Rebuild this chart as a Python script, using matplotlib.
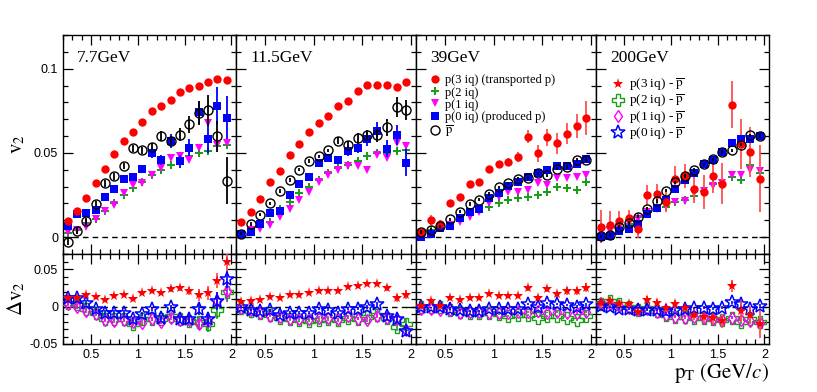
import numpy as np
import matplotlib
matplotlib.use("Agg")
import matplotlib.pyplot as plt
from matplotlib.ticker import MultipleLocator, FixedLocator
from matplotlib.lines import Line2D

plt.rcParams['font.family'] = ['Liberation Sans', 'DejaVu Sans']
plt.rcParams['mathtext.fontset'] = 'stix'

pt = [0.25, 0.35, 0.45, 0.55, 0.65, 0.75, 0.85, 0.95, 1.05, 1.15,
      1.25, 1.35, 1.45, 1.55, 1.65, 1.75, 1.85, 1.95]
energies = ["7.7GeV", "11.5GeV", "39GeV", "200GeV"]

# ---------- v2 (top row) ----------
v2_3iq = [
    [0.0097, 0.0154, 0.0231, 0.0321, 0.0402, 0.0493, 0.0568, 0.0623, 0.0686, 0.0746, 0.0779, 0.0813, 0.0862, 0.0884, 0.0899, 0.0923, 0.0937, 0.0931],
    [0.0091, 0.0148, 0.0225, 0.0329, 0.0394, 0.0487, 0.0552, 0.0627, 0.0675, 0.0722, 0.0777, 0.0807, 0.0868, 0.0901, 0.0903, 0.0903, 0.0892, 0.0921],
    [0.0028, 0.0103, 0.0081, 0.0201, 0.0237, 0.0316, 0.0327, 0.0404, 0.0432, 0.0448, 0.0475, 0.0596, 0.0499, 0.0594, 0.0556, 0.0615, 0.0661, 0.0708],
    [0.0063, 0.0075, 0.0097, 0.0114, 0.0047, 0.0252, 0.0256, 0.0210, 0.0343, 0.0363, 0.0284, 0.0270, 0.0363, 0.0318, 0.0787, 0.0552, 0.0505, 0.0347],
]
v2_3iq_err = [
    [0.001, 0.001, 0.001, 0.001, 0.001, 0.001, 0.001, 0.001, 0.001, 0.001, 0.001, 0.001, 0.001, 0.001, 0.001, 0.001, 0.001, 0.0015],
    [0.001, 0.001, 0.001, 0.001, 0.001, 0.001, 0.001, 0.001, 0.001, 0.001, 0.001, 0.001, 0.001, 0.001, 0.001, 0.001, 0.0015, 0.002],
    [0.002, 0.003, 0.002, 0.002, 0.002, 0.002, 0.002, 0.002, 0.002, 0.002, 0.003, 0.004, 0.005, 0.005, 0.006, 0.006, 0.007, 0.010],
    [0.010, 0.008, 0.006, 0.005, 0.005, 0.006, 0.006, 0.006, 0.008, 0.007, 0.008, 0.010, 0.010, 0.012, 0.014, 0.015, 0.015, 0.020],
]
v2_2iq = [
    [0.0024, 0.0045, 0.0085, 0.0110, 0.0155, 0.0200, 0.0250, 0.0290, 0.0330, 0.0370, 0.0400, 0.0430, 0.0450, 0.0480, 0.0500, 0.0510, 0.0540, 0.0550],
    [0.0010, 0.0050, 0.0060, 0.0090, 0.0170, 0.0210, 0.0260, 0.0300, 0.0340, 0.0380, 0.0410, 0.0430, 0.0450, 0.0480, 0.0500, 0.0500, 0.0510, 0.0520],
    [0.0015, 0.0040, 0.0070, 0.0075, 0.0110, 0.0130, 0.0170, 0.0180, 0.0200, 0.0220, 0.0230, 0.0240, 0.0250, 0.0270, 0.0300, 0.0290, 0.0280, 0.0330],
    [0.0018, 0.0060, 0.0063, 0.0081, 0.0122, 0.0156, 0.0185, 0.0180, 0.0210, 0.0220, 0.0245, 0.0274, 0.0314, 0.0320, 0.0357, 0.0337, 0.0426, 0.0379],
]
v2_1iq = [
    [0.0030, 0.0040, 0.0060, 0.0105, 0.0155, 0.0190, 0.0260, 0.0310, 0.0320, 0.0370, 0.0410, 0.0470, 0.0480, 0.0460, 0.0530, 0.0680, 0.0550, 0.0560],
    [0.0010, 0.0040, 0.0050, 0.0070, 0.0120, 0.0170, 0.0220, 0.0270, 0.0330, 0.0370, 0.0400, 0.0420, 0.0420, 0.0400, 0.0485, 0.0470, 0.0560, 0.0540],
    [0.0020, 0.0020, 0.0060, 0.0075, 0.0090, 0.0120, 0.0150, 0.0200, 0.0240, 0.0270, 0.0270, 0.0280, 0.0320, 0.0310, 0.0350, 0.0350, 0.0360, 0.0370],
    [0.0028, 0.0037, 0.0063, 0.0083, 0.0110, 0.0150, 0.0170, 0.0185, 0.0210, 0.0215, 0.0260, 0.0274, 0.0304, 0.0320, 0.0370, 0.0370, 0.0400, 0.0390],
]
v2_0iq = [
    [0.0067, 0.0140, 0.0142, 0.0162, 0.0239, 0.0288, 0.0345, 0.0360, 0.0404, 0.0500, 0.0458, 0.0570, 0.0450, 0.0530, 0.0740, 0.0580, 0.0780, 0.0710],
    [0.0018, 0.0032, 0.0079, 0.0146, 0.0158, 0.0252, 0.0318, 0.0357, 0.0442, 0.0467, 0.0460, 0.0511, 0.0527, 0.0584, 0.0633, 0.0525, 0.0607, 0.0442],
    [0.0000, 0.0020, 0.0055, 0.0065, 0.0112, 0.0150, 0.0167, 0.0233, 0.0260, 0.0305, 0.0325, 0.0355, 0.0383, 0.0400, 0.0425, 0.0422, 0.0437, 0.0464],
    [0.0000, 0.0004, 0.0037, 0.0047, 0.0077, 0.0136, 0.0172, 0.0221, 0.0284, 0.0340, 0.0383, 0.0432, 0.0456, 0.0505, 0.0560, 0.0580, 0.0584, 0.0600],
]
v2_0iq_err = [
    [0.002, 0.002, 0.002, 0.002, 0.002, 0.002, 0.002, 0.002, 0.002, 0.003, 0.003, 0.004, 0.004, 0.005, 0.007, 0.008, 0.011, 0.013],
    [0.001, 0.001, 0.001, 0.001, 0.001, 0.002, 0.002, 0.002, 0.002, 0.002, 0.002, 0.003, 0.003, 0.004, 0.005, 0.005, 0.006, 0.008],
    [0.001, 0.001, 0.001, 0.001, 0.001, 0.001, 0.001, 0.001, 0.001, 0.001, 0.001, 0.001, 0.001, 0.001, 0.001, 0.001, 0.002, 0.002],
    [0.001, 0.001, 0.001, 0.001, 0.001, 0.001, 0.001, 0.001, 0.001, 0.001, 0.001, 0.001, 0.001, 0.001, 0.002, 0.002, 0.002, 0.002],
]
v2_pbar = [
    [-0.0026, 0.0038, 0.0095, 0.0197, 0.0320, 0.0361, 0.0422, 0.0527, 0.0515, 0.0537, 0.0602, 0.0572, 0.0608, 0.0671, 0.0738, 0.0752, 0.0598, 0.0335],
    [0.0020, 0.0079, 0.0134, 0.0201, 0.0274, 0.0339, 0.0400, 0.0452, 0.0479, 0.0515, 0.0572, 0.0550, 0.0588, 0.0607, 0.0604, 0.0653, 0.0771, 0.0757],
    [0.0030, 0.0045, 0.0065, 0.0105, 0.0152, 0.0197, 0.0223, 0.0256, 0.0296, 0.0320, 0.0345, 0.0349, 0.0379, 0.0367, 0.0406, 0.0416, 0.0460, 0.0458],
    [0.0004, 0.0012, 0.0060, 0.0083, 0.0122, 0.0170, 0.0215, 0.0276, 0.0325, 0.0363, 0.0398, 0.0432, 0.0462, 0.0505, 0.0515, 0.0550, 0.0604, 0.0600],
]
v2_pbar_err = [
    [0.002, 0.002, 0.002, 0.002, 0.002, 0.002, 0.002, 0.002, 0.002, 0.002, 0.003, 0.003, 0.004, 0.005, 0.007, 0.009, 0.009, 0.014],
    [0.001, 0.001, 0.001, 0.001, 0.001, 0.001, 0.001, 0.001, 0.001, 0.001, 0.002, 0.002, 0.003, 0.003, 0.004, 0.005, 0.006, 0.006],
    [0.001, 0.001, 0.001, 0.001, 0.001, 0.001, 0.001, 0.001, 0.001, 0.001, 0.001, 0.001, 0.001, 0.001, 0.001, 0.001, 0.001, 0.001],
    [0.001, 0.001, 0.001, 0.001, 0.001, 0.001, 0.001, 0.001, 0.001, 0.001, 0.001, 0.001, 0.001, 0.001, 0.001, 0.001, 0.001, 0.001],
]

# ---------- delta v2 (bottom row) ----------
dv2_3iq = [
    [0.0120, 0.0107, 0.0151, 0.0133, 0.0089, 0.0138, 0.0156, 0.0102, 0.0178, 0.0213, 0.0182, 0.0240, 0.0253, 0.0209, 0.0156, 0.0178, 0.0342, 0.0596],
    [0.0062, 0.0071, 0.0093, 0.0129, 0.0116, 0.0147, 0.0147, 0.0182, 0.0204, 0.0204, 0.0204, 0.0258, 0.0280, 0.0302, 0.0302, 0.0249, 0.0116, 0.0160],
    [0.0010, 0.0076, 0.0009, 0.0107, 0.0089, 0.0120, 0.0107, 0.0164, 0.0142, 0.0142, 0.0142, 0.0253, 0.0120, 0.0231, 0.0164, 0.0209, 0.0209, 0.0253],
    [0.0049, 0.0071, 0.0040, 0.0027, -0.0076, 0.0084, 0.0049, -0.0018, 0.0027, -0.0018, -0.0107, -0.0138, -0.0151, -0.0196, 0.0271, -0.0062, -0.0107, -0.0227],
]
dv2_3iq_err = [
    [0.003, 0.003, 0.003, 0.003, 0.003, 0.003, 0.003, 0.003, 0.003, 0.003, 0.003, 0.004, 0.004, 0.005, 0.008, 0.009, 0.010, 0.012],
    [0.002, 0.002, 0.002, 0.002, 0.002, 0.002, 0.002, 0.002, 0.002, 0.002, 0.002, 0.002, 0.002, 0.003, 0.003, 0.004, 0.005, 0.006],
    [0.002, 0.003, 0.002, 0.002, 0.002, 0.002, 0.002, 0.002, 0.002, 0.002, 0.002, 0.004, 0.004, 0.004, 0.004, 0.005, 0.005, 0.006],
    [0.008, 0.006, 0.005, 0.004, 0.004, 0.005, 0.005, 0.005, 0.006, 0.006, 0.007, 0.008, 0.008, 0.009, 0.008, 0.015, 0.012, 0.019],
]
dv2_2iq = [
    [0.0053, 0.0031, -0.0036, -0.0089, -0.0169, -0.0169, -0.0169, -0.0236, -0.0169, -0.0169, -0.0169, -0.0124, -0.0169, -0.0191, -0.0213, -0.0236, -0.0049, 0.0187],
    [-0.0018, -0.0062, -0.0084, -0.0107, -0.0151, -0.0173, -0.0182, -0.0187, -0.0182, -0.0173, -0.0182, -0.0151, -0.0164, -0.0138, -0.0107, -0.0151, -0.0271, -0.0227],
    [0.0000, -0.0013, 0.0000, -0.0044, -0.0071, -0.0089, -0.0089, -0.0080, -0.0102, -0.0124, -0.0116, -0.0116, -0.0147, -0.0124, -0.0124, -0.0147, -0.0178, -0.0124],
    [0.0040, 0.0071, 0.0040, -0.0004, -0.0040, -0.0018, -0.0062, -0.0107, -0.0138, -0.0138, -0.0151, -0.0151, -0.0164, -0.0182, -0.0151, -0.0209, -0.0173, -0.0209],
]
dv2_1iq = [
    [0.0031, 0.0000, -0.0058, -0.0102, -0.0178, -0.0191, -0.0178, -0.0213, -0.0222, -0.0169, -0.0204, -0.0147, -0.0178, -0.0178, -0.0236, -0.0191, 0.0076, 0.0209],
    [-0.0018, -0.0053, -0.0084, -0.0120, -0.0138, -0.0164, -0.0164, -0.0164, -0.0151, -0.0151, -0.0173, -0.0129, -0.0164, -0.0182, -0.0120, -0.0151, -0.0173, -0.0307],
    [-0.0027, -0.0027, -0.0044, -0.0044, -0.0080, -0.0071, -0.0071, -0.0080, -0.0080, -0.0080, -0.0071, -0.0071, -0.0058, -0.0080, -0.0071, -0.0080, -0.0080, -0.0071],
    [0.0027, 0.0027, 0.0013, -0.0018, -0.0040, -0.0031, -0.0076, -0.0107, -0.0138, -0.0151, -0.0138, -0.0151, -0.0164, -0.0182, -0.0151, -0.0182, -0.0196, -0.0218],
]
dv2_0iq = [
    [0.0110, 0.0110, 0.0053, -0.0036, -0.0080, -0.0080, -0.0080, -0.0169, -0.0100, -0.0036, -0.0147, -0.0013, -0.0169, -0.0160, -0.0027, -0.0169, 0.0080, 0.0373],
    [-0.0004, -0.0040, -0.0062, -0.0053, -0.0107, -0.0084, -0.0084, -0.0084, -0.0027, -0.0040, -0.0084, -0.0031, -0.0031, -0.0004, 0.0027, -0.0120, -0.0164, -0.0329],
    [-0.0013, -0.0013, -0.0013, -0.0036, -0.0044, -0.0058, -0.0058, -0.0027, -0.0027, -0.0027, -0.0027, 0.0031, 0.0000, 0.0044, 0.0031, 0.0018, 0.0000, 0.0031],
    [0.0013, -0.0004, -0.0031, -0.0031, -0.0040, -0.0040, -0.0040, -0.0062, -0.0040, -0.0031, -0.0022, -0.0018, -0.0027, -0.0018, 0.0058, 0.0040, -0.0031, 0.0004],
]
dv2_lo_err = [
    [0.003, 0.003, 0.003, 0.003, 0.003, 0.003, 0.003, 0.003, 0.003, 0.003, 0.003, 0.003, 0.004, 0.005, 0.008, 0.010, 0.012, 0.013],
    [0.002, 0.002, 0.002, 0.002, 0.002, 0.002, 0.002, 0.002, 0.002, 0.002, 0.002, 0.002, 0.002, 0.003, 0.003, 0.004, 0.005, 0.006],
    [0.001, 0.001, 0.001, 0.001, 0.001, 0.001, 0.001, 0.001, 0.001, 0.001, 0.001, 0.001, 0.001, 0.001, 0.001, 0.001, 0.002, 0.002],
    [0.002, 0.002, 0.002, 0.002, 0.002, 0.002, 0.002, 0.002, 0.002, 0.002, 0.002, 0.002, 0.002, 0.002, 0.002, 0.003, 0.003, 0.003],
]

RED = '#ff0000'
GREEN = '#1a9e1a'
MAG = '#ff00ff'
BLUE = '#0000ff'
SERIF = ['Liberation Serif', 'DejaVu Serif']

fig = plt.figure(figsize=(8.17, 3.92), dpi=100)
gs = fig.add_gridspec(2, 4, left=63/817, right=769/817, top=1-35/392, bottom=1-344/392,
                      hspace=0, wspace=0, width_ratios=[173, 180, 180, 173], height_ratios=[219, 90])

def style(ax, top):
    ax.set_xlim(0.2, 2.05)
    ax.xaxis.set_major_locator(FixedLocator([0.5, 1.0, 1.5, 2.0]))
    ax.xaxis.set_minor_locator(MultipleLocator(0.1))
    if top:
        ax.set_ylim(-0.01, 0.12)
        ax.yaxis.set_major_locator(FixedLocator([0, 0.05, 0.1]))
    else:
        ax.set_ylim(-0.05, 0.07)
        ax.yaxis.set_major_locator(FixedLocator([-0.05, 0, 0.05]))
    ax.yaxis.set_minor_locator(MultipleLocator(0.01))
    ax.tick_params(which='both', direction='in', top=True, right=True, width=0.9,
                   labelsize=9)
    ax.tick_params(which='major', length=7)
    ax.tick_params(which='minor', length=3.5)
    for s in ax.spines.values():
        s.set_linewidth(1.0)
    ax.axhline(0, color='black', ls=(0, (4, 3)), lw=1.0, zorder=1)

x = np.array(pt)
axes_top = []
for i in range(4):
    ax = fig.add_subplot(gs[0, i])
    axes_top.append(ax)
    style(ax, True)
    ax.errorbar(x, v2_2iq[i], fmt='P', color=GREEN, ms=6, mew=0, zorder=3)
    ax.errorbar(x, v2_1iq[i], fmt='v', color=MAG, ms=5.5, mew=0, zorder=3)
    ax.errorbar(x, v2_0iq[i], yerr=v2_0iq_err[i], fmt='s', color=BLUE, ms=5.5, mew=0,
                elinewidth=1.3, zorder=4)
    ax.errorbar(x, v2_pbar[i], yerr=v2_pbar_err[i], fmt='o', color='black', mfc='none',
                ms=6.5, mew=1.0, elinewidth=1.3, zorder=5)
    ax.errorbar(x, v2_3iq[i], yerr=v2_3iq_err[i], fmt='o', color=RED, ms=6, mew=0,
                elinewidth=1.3, ecolor='#ff5050', zorder=4)
    ax.text(0.08, 0.93, energies[i], transform=ax.transAxes, ha='left', va='top',
            fontsize=12.5, family=SERIF)
    ax.set_xticklabels([])
    if i == 0:
        ax.set_yticklabels(['0', '0.05', '0.1'])
        ax.set_ylabel(r'$\mathrm{v}_{2}$', fontsize=15)
        ax.yaxis.set_label_coords(-0.21, 0.5)
    else:
        ax.set_yticklabels([])
    if i == 2:
        h = [Line2D([], [], marker='o', color=RED, ls='none', ms=6, mew=0),
             Line2D([], [], marker='P', color=GREEN, ls='none', ms=6, mew=0),
             Line2D([], [], marker='v', color=MAG, ls='none', ms=5.5, mew=0),
             Line2D([], [], marker='s', color=BLUE, ls='none', ms=5.5, mew=0),
             Line2D([], [], marker='o', color='black', mfc='none', ls='none', ms=6.5, mew=1.0)]
        lab = ['p(3 iq) (transported p)', 'p(2 iq)', 'p(1 iq)', 'p(0 iq) (produced p)',
               r'$\overline{\mathrm{p}}$']
        ax.legend(h, lab, loc='upper left', bbox_to_anchor=(0.02, 0.855), frameon=False,
                  prop={'family': SERIF, 'size': 9}, handletextpad=0.2, labelspacing=0.02,
                  handlelength=1.2, borderpad=0.1)

for i in range(4):
    ax = fig.add_subplot(gs[1, i])
    style(ax, False)
    ax.errorbar(x, dv2_2iq[i], yerr=dv2_lo_err[i], fmt='P', color=GREEN, mfc='none', ms=9,
                mew=1.0, elinewidth=1.2, zorder=3)
    ax.errorbar(x, dv2_1iq[i], yerr=dv2_lo_err[i], fmt='d', color=MAG, mfc='none', ms=6.5,
                mew=1.0, elinewidth=1.2, zorder=3)
    ax.errorbar(x, dv2_0iq[i], yerr=dv2_lo_err[i], fmt='*', color=BLUE, mfc='none', ms=10,
                mew=1.1, elinewidth=1.2, zorder=4)
    ax.errorbar(x, dv2_3iq[i], yerr=dv2_3iq_err[i], fmt='*', color=RED, ms=8, mew=0,
                elinewidth=1.3, ecolor='#ff5050', zorder=4)
    ax.set_xticklabels(['0.5', '1', '1.5', '2'])
    if i == 0:
        ax.set_yticklabels(['-0.05', '0', '0.05'])
        ax.set_ylabel(r'$\Delta\mathrm{v}_{2}$', fontsize=15)
        ax.yaxis.set_label_coords(-0.21, 0.5)
    else:
        ax.set_yticklabels([])
    if i == 3:
        ax.set_xlabel(r'$\mathrm{p}_{\mathrm{T}}\ \mathrm{(GeV/}c\mathrm{)}$', fontsize=15,
                      loc='right', labelpad=0)
        h = [Line2D([], [], marker='*', color=RED, ls='none', ms=8, mew=0),
             Line2D([], [], marker='P', color=GREEN, mfc='none', ls='none', ms=9, mew=1.0),
             Line2D([], [], marker='d', color=MAG, mfc='none', ls='none', ms=6.5, mew=1.0),
             Line2D([], [], marker='*', color=BLUE, mfc='none', ls='none', ms=10, mew=1.1)]
        lab = [r'p(3 iq) - $\overline{\mathrm{p}}$', r'p(2 iq) - $\overline{\mathrm{p}}$',
               r'p(1 iq) - $\overline{\mathrm{p}}$', r'p(0 iq) - $\overline{\mathrm{p}}$']
        axes_top[3].legend(h, lab, loc='upper left', bbox_to_anchor=(0.03, 0.845), frameon=False,
                           prop={'family': SERIF, 'size': 9.5}, handletextpad=0.2,
                           labelspacing=0.0, handlelength=1.3, borderpad=0.1)

fig.savefig('out.png', dpi=100)
